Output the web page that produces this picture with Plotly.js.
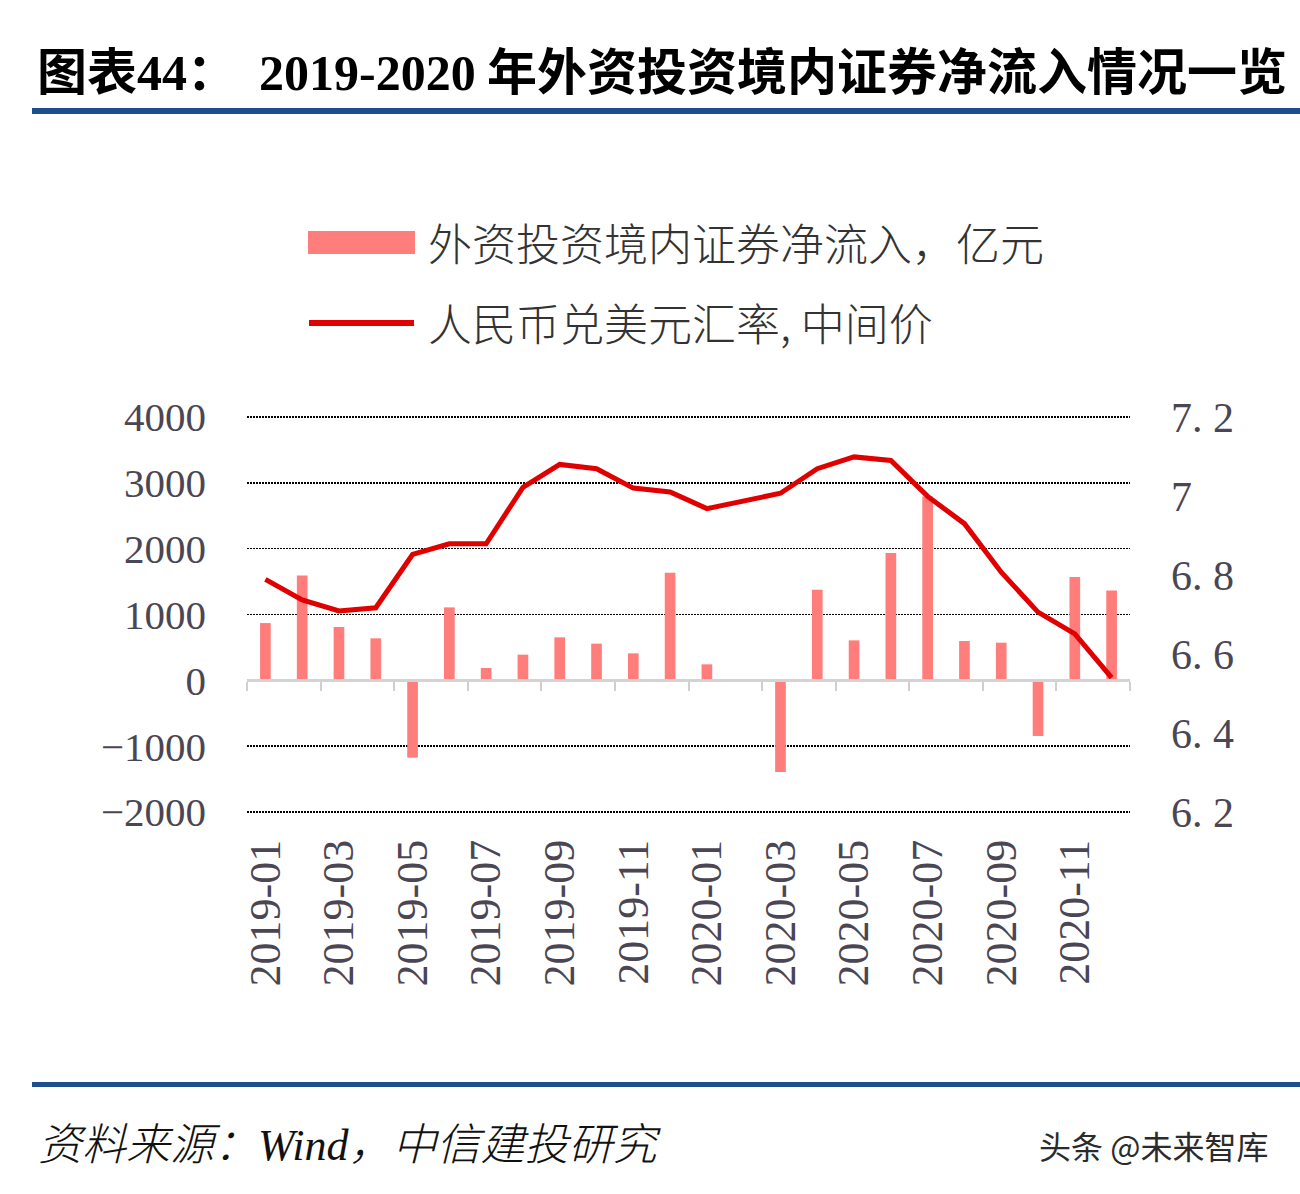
<!DOCTYPE html>
<html>
<head>
<meta charset="utf-8">
<script src="https://cdn.plot.ly/plotly-3.0.1.min.js"></script>
<style>
  html, body { margin: 0; padding: 0; background: #ffffff; }
  #chart { width: 1300px; height: 1194px; }
</style>
</head>
<body>
<div id="chart"></div>
<script>
// Months 2019-01 .. 2020-12
const months = [
  '2019-01','2019-02','2019-03','2019-04','2019-05','2019-06',
  '2019-07','2019-08','2019-09','2019-10','2019-11','2019-12',
  '2020-01','2020-02','2020-03','2020-04','2020-05','2020-06',
  '2020-07','2020-08','2020-09','2020-10','2020-11','2020-12'
];

// 外资投资境内证券净流入，亿元
const netInflow = [
  870, 1594, 810, 638, -1174, 1108,
  187, 390, 653, 557, 410, 1635,
  243, 0, -1392, 1377, 607, 1933,
  2794, 597, 572, -845, 1569, 1366
];

// 人民币兑美元汇率, 中间价
const usdCny = [
  6.789, 6.737, 6.709, 6.717, 6.852, 6.879,
  6.879, 7.022, 7.080, 7.069, 7.020, 7.010,
  6.968, 6.989, 7.007, 7.069, 7.099, 7.090,
  6.999, 6.930, 6.807, 6.706, 6.651, 6.540
];

const leftTicks = [-2000, -1000, 0, 1000, 2000, 3000, 4000];
const rightTicks = [6.2, 6.4, 6.6, 6.8, 7.0, 7.2];
const rightTickText = ['6. 2', '6. 4', '6. 6', '6. 8', '7', '7. 2'];

const barName = '外资投资境内证券净流入，亿元';
const lineName = '人民币兑美元汇率, 中间价';

const BAR_COLOR = '#ff7d7a';
const LINE_COLOR = '#e00000';
const AXIS_TEXT = '#4b4654';
const RULE_BLUE = '#1f4e8d';

// page pixels of the 4000 / -2000 grid lines and the plot's left/right edges
const L = 247, R = 1130, GT = 417, GB = 812;
// the plot box is 2px taller at each end so the outer grid lines are kept
const EDGE = 2;
const T = GT - EDGE, B = GB + EDGE;
const PAD = EDGE * 6000 / (GB - GT);
const leftRange = [-2000 - PAD, 4000 + PAD];
// right axis keeps the same proportion (6.2..7.2 <-> -2000..4000)
const rightRange = [6.2 - PAD / 6000, 7.2 + PAD / 6000];

const PX = v => (v - L) / (R - L);
const PY = v => (B - v) / (B - T);

const traces = [
  {
    type: 'bar', name: barName, x: months, y: netInflow,
    xaxis: 'x', yaxis: 'y',
    marker: { color: BAR_COLOR }, width: 0.29, showlegend: false
  },
  {
    type: 'scatter', mode: 'lines', name: lineName, x: months, y: usdCny,
    xaxis: 'x2', yaxis: 'y2',
    line: { color: LINE_COLOR, width: 5 }, showlegend: false
  }
];

const serif = 'Liberation Serif, DejaVu Serif, serif';
const cjk = 'Noto Sans CJK SC, Noto Sans, sans-serif';

const layout = {
  width: 1300, height: 1194,
  margin: { l: L, r: 1300 - R, t: T, b: 1194 - B, pad: 0 },
  paper_bgcolor: '#ffffff', plot_bgcolor: 'rgba(0,0,0,0)',
  showlegend: false,
  xaxis: {
    type: 'category', categoryorder: 'array', categoryarray: months,
    range: [-0.5, 23.5], anchor: 'y',
    showline: false, ticks: '', showgrid: false, zeroline: false,
    tickmode: 'linear', tick0: 0, dtick: 2, tickangle: -90,
    ticklabelstandoff: 16,
    tickfont: { family: serif, size: 44, color: AXIS_TEXT }
  },
  xaxis2: {
    type: 'category', categoryorder: 'array', categoryarray: months,
    range: [-0.5, 23.5], overlaying: 'x', anchor: 'free',
    position: (0 - leftRange[0]) / (leftRange[1] - leftRange[0]),
    showline: true, linecolor: '#d3d3d3', linewidth: 3,
    ticks: 'outside', ticklen: 9, tickwidth: 2, tickcolor: '#cfcfcf',
    tickson: 'boundaries', tickmode: 'linear', tick0: 0, dtick: 2,
    showticklabels: false, showgrid: false, zeroline: false
  },
  yaxis: {
    range: leftRange, tickmode: 'array', tickvals: leftTicks,
    showgrid: true, gridcolor: '#000000', griddash: '2px,1px', gridwidth: 1.6,
    zeroline: false, showline: false, ticks: '',
    ticklabelstandoff: 40,
    tickfont: { family: serif, size: 41, color: AXIS_TEXT }
  },
  yaxis2: {
    range: rightRange, overlaying: 'y', side: 'right', anchor: 'x',
    tickmode: 'array', tickvals: rightTicks, ticktext: rightTickText,
    showgrid: false, zeroline: false, showline: false, ticks: '',
    ticklabelstandoff: 40,
    tickfont: { family: serif, size: 42, color: AXIS_TEXT }
  },
  shapes: [
    // header and footer rules
    { type: 'rect', xref: 'paper', yref: 'paper', x0: PX(32), x1: PX(1300), y0: PY(114), y1: PY(108),
      fillcolor: RULE_BLUE, line: { width: 0 } },
    { type: 'rect', xref: 'paper', yref: 'paper', x0: PX(32), x1: PX(1300), y0: PY(1087), y1: PY(1082),
      fillcolor: RULE_BLUE, line: { width: 0 } },
    // legend keys
    { type: 'rect', xref: 'paper', yref: 'paper', x0: PX(308), x1: PX(415), y0: PY(254), y1: PY(231),
      fillcolor: BAR_COLOR, line: { width: 0 } },
    { type: 'line', xref: 'paper', yref: 'paper', x0: PX(309), x1: PX(414), y0: PY(323), y1: PY(323),
      line: { color: LINE_COLOR, width: 6 } }
  ],
  annotations: [
    { xref: 'paper', yref: 'paper', x: PX(35), y: PY(68), xanchor: 'left', yanchor: 'middle',
      showarrow: false, font: { family: cjk, size: 50, color: '#000000' },
      text: '<b>图表<span style="font-family:Liberation Serif">44</span>：</b>' },
    { xref: 'paper', yref: 'paper', x: PX(257), y: PY(68), xanchor: 'left', yanchor: 'middle',
      showarrow: false, font: { family: cjk, size: 50, color: '#000000' },
      text: '<b><span style="font-family:Liberation Serif">2019-2020</span> 年外资投资境内证券净流入情况一览</b>' },
    { xref: 'paper', yref: 'paper', x: PX(426), y: PY(242), xanchor: 'left', yanchor: 'middle',
      showarrow: false, font: { family: cjk, size: 44, color: '#333333', weight: 300 },
      text: barName },
    { xref: 'paper', yref: 'paper', x: PX(426), y: PY(322), xanchor: 'left', yanchor: 'middle',
      showarrow: false, font: { family: cjk, size: 44, color: '#333333', weight: 300 },
      text: lineName },
    { xref: 'paper', yref: 'paper', x: PX(36), y: PY(1141), xanchor: 'left', yanchor: 'middle',
      showarrow: false, font: { family: cjk, size: 44, color: '#111111', weight: 300 },
      text: '<i>资料来源：<span style="font-family:Liberation Serif">Wind</span>，中信建投研究</i>' },
    { xref: 'paper', yref: 'paper', x: PX(1270), y: PY(1145), xanchor: 'right', yanchor: 'middle',
      showarrow: false, font: { family: cjk, size: 32, color: '#2b2b2b' },
      text: '头条 @未来智库' }
  ]
};

Plotly.newPlot('chart', traces, layout, { staticPlot: true, displayModeBar: false });
</script>
</body>
</html>
